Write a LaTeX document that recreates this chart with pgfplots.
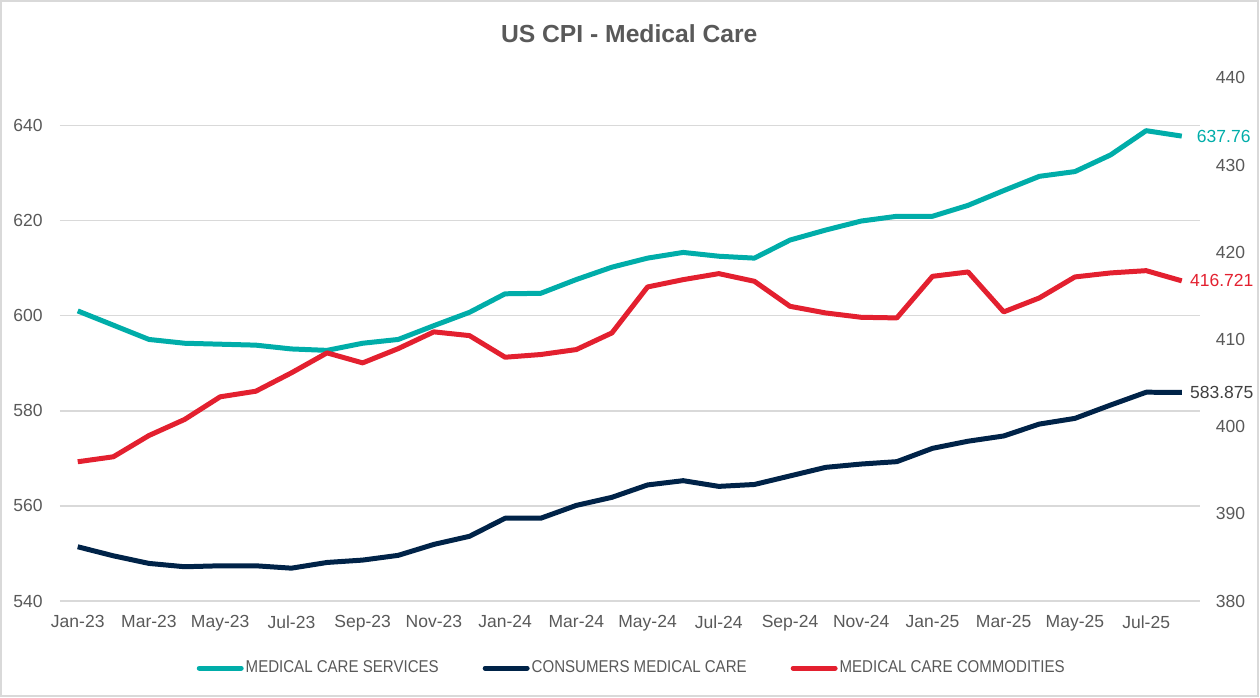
\documentclass[border=0pt]{standalone}
\usepackage{fontspec}
\setmainfont{Liberation Sans}
\newfontfamily\legfont[FakeStretch=0.88]{Liberation Sans}
\usepackage{pgfplots}
\usepackage{pgfplotstable}
\pgfplotsset{compat=1.18}

\definecolor{svc}{HTML}{00ADA9}
\definecolor{cons}{HTML}{002348}
\definecolor{comm}{HTML}{E3202F}
\definecolor{gridgray}{HTML}{D9D9D9}
\definecolor{txtgray}{HTML}{595959}

% month index (0 = Jan-23), services, consumers, commodities
\pgfplotstableread{
m   svc     cons     comm
0   601.0   551.4    395.97
1   598.0   549.5    396.54
2   595.0   547.9    398.98
3   594.2   547.2    400.82
4   594.0   547.4    403.42
5   593.8   547.4    404.06
6   593.0   546.9    406.17
7   592.7   548.1    408.46
8   594.2   548.6    407.31
9   595.0   549.6    408.95
10  597.9   551.9    410.87
11  600.7   553.6    410.44
12  604.6   557.4    407.96
13  604.7   557.4    408.27
14  607.6   560.1    408.84
15  610.2   561.8    410.75
16  612.1   564.4    416.02
17  613.3   565.3    416.86
18  612.5   564.1    417.55
19  612.1   564.5    416.67
20  615.9   566.3    413.80
21  618.0   568.1    413.04
22  619.9   568.8    412.54
23  620.9   569.3    412.47
24  620.9   572.1    417.24
25  623.2   573.6    417.74
26  626.3   574.7    413.16
27  629.3   577.2    414.76
28  630.3   578.4    417.17
29  633.8   581.2    417.63
30  638.9   583.9    417.89
31  637.76  583.875  416.721
}\cpidata

\pgfplotsset{
  /pgf/number format/assume math mode=true,
  base/.style={
    at={(30bp,48.15bp)}, anchor=south west,
    scale only axis, width=570.5bp, height=261.85bp,
    xmin=-0.5, xmax=31.5,
    axis line style={draw=none},
    major tick length=0pt,
    tick label style={font=\fontsize{8.8}{10}\selectfont, text=txtgray},
    clip=false,
  },
}

\begin{document}
\begin{tikzpicture}
\path (0,0) rectangle (630bp,349bp);
\draw[line width=1bp, gridgray] (0.5bp,0.5bp) rectangle (629.5bp,348.5bp);
\node[font=\fontsize{12.4}{14}\selectfont\bfseries, text=txtgray] at (315bp,332bp) {US CPI - Medical Care};

\begin{axis}[base,
  ymin=540, ymax=650,
  ytick={540,560,...,640},
  ymajorgrids, grid style={gridgray, line width=0.75bp},
  yticklabel style={anchor=east, inner sep=0pt, xshift=-8.5bp},
  xtick={0,2,...,30},
  xticklabels={Jan-23,Mar-23,May-23,Jul-23,Sep-23,Nov-23,Jan-24,Mar-24,May-24,Jul-24,Sep-24,Nov-24,Jan-25,Mar-25,May-25,Jul-25},
  xticklabel style={anchor=north, inner sep=0pt, yshift=-7bp},
  legend columns=3,
  legend cell align=left,
  legend image code/.code={\draw[#1, line width=2.5bp, line cap=round] (0bp,0bp) -- (21bp,0bp);},
  legend style={at={(0.5,0)}, anchor=center, yshift=-33.6bp, xshift=1bp, draw=none, fill=none,
    font=\legfont\fontsize{8.6}{10}\selectfont, text=txtgray,
    nodes={inner xsep=1bp, inner ysep=1bp},
    /tikz/every even column/.append style={column sep=21bp}},
]
\addplot[svc, line width=2.5bp, line join=round] table[x=m, y=svc] {\cpidata};
\addplot[cons, line width=2.5bp, line join=round] table[x=m, y=cons] {\cpidata};
\addlegendimage{comm}
\legend{MEDICAL CARE SERVICES, CONSUMERS MEDICAL CARE, MEDICAL CARE COMMODITIES}
\node[text=svc, font=\fontsize{8.8}{10}\selectfont, anchor=center, xshift=21bp] at (axis cs:31,637.76) {637.76};
\node[text=black!75, font=\fontsize{8.8}{10}\selectfont, anchor=center, xshift=20bp] at (axis cs:31,583.875) {583.875};
\end{axis}

\begin{axis}[base,
  ymin=380, ymax=440,
  ytick={380,390,...,440},
  axis y line*=right,
  axis x line=none,
  yticklabel style={anchor=west, inner sep=0pt, xshift=8bp},
]
\addplot[comm, line width=2.5bp, line join=round] table[x=m, y=comm] {\cpidata};
\node[text=comm, font=\fontsize{8.8}{10}\selectfont, anchor=center, xshift=20bp] at (axis cs:31,416.721) {416.721};
\end{axis}
\end{tikzpicture}
\end{document}
